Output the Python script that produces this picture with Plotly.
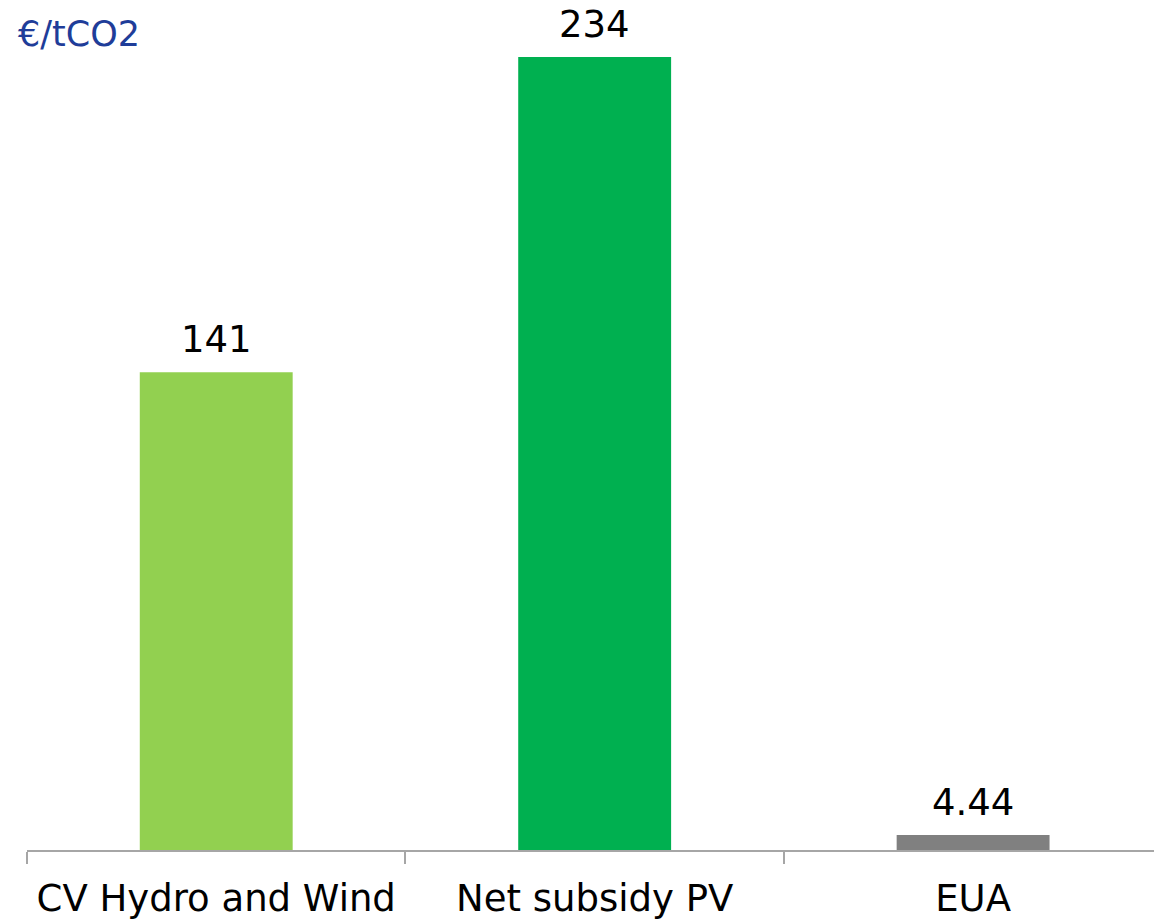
import plotly.graph_objects as go

categories = ["CV Hydro and Wind", "Net subsidy PV", "EUA"]
values = [141, 234, 4.44]
value_labels = ["141", "234", "4.44"]
colors = ["#92D050", "#00B050", "#808080"]
unit_label = "€/tCO2"

fig = go.Figure()
fig.add_trace(go.Bar(
    x=categories, y=values, marker=dict(color=colors, line=dict(width=0)),
    width=0.404, hoverinfo="skip"))

for c, v, t in zip(categories, values, value_labels):
    fig.add_annotation(x=c, y=v, text=t, showarrow=False, yanchor="bottom",
                       yshift=9, font=dict(family="DejaVu Sans", size=37, color="#000000"))

fig.add_annotation(xref="paper", yref="paper", x=-0.010, y=1.0, xanchor="left", yanchor="top",
                   text=unit_label, showarrow=False, yshift=8,
                   font=dict(family="DejaVu Sans", size=35, color="#1F3D99"))

fig.update_layout(
    width=1154, height=921,
    margin=dict(l=27, r=0, t=20, b=71),
    plot_bgcolor="white", paper_bgcolor="white",
    showlegend=False,
    font=dict(family="DejaVu Sans", size=37, color="#000000"),
    xaxis=dict(type="category", range=[-0.5, 2.478], showline=True, linecolor="#A6A6A6",
               linewidth=1.5, ticks="outside", ticklen=12, tickcolor="#A6A6A6", tickwidth=1.5,
               tickson="boundaries", showgrid=False, zeroline=False, ticklabelstandoff=15,
               tickfont=dict(family="DejaVu Sans", size=37, color="#000000")),
    yaxis=dict(range=[0, 244.9], visible=False, showgrid=False, zeroline=False),
)

fig.write_html("out.html")
